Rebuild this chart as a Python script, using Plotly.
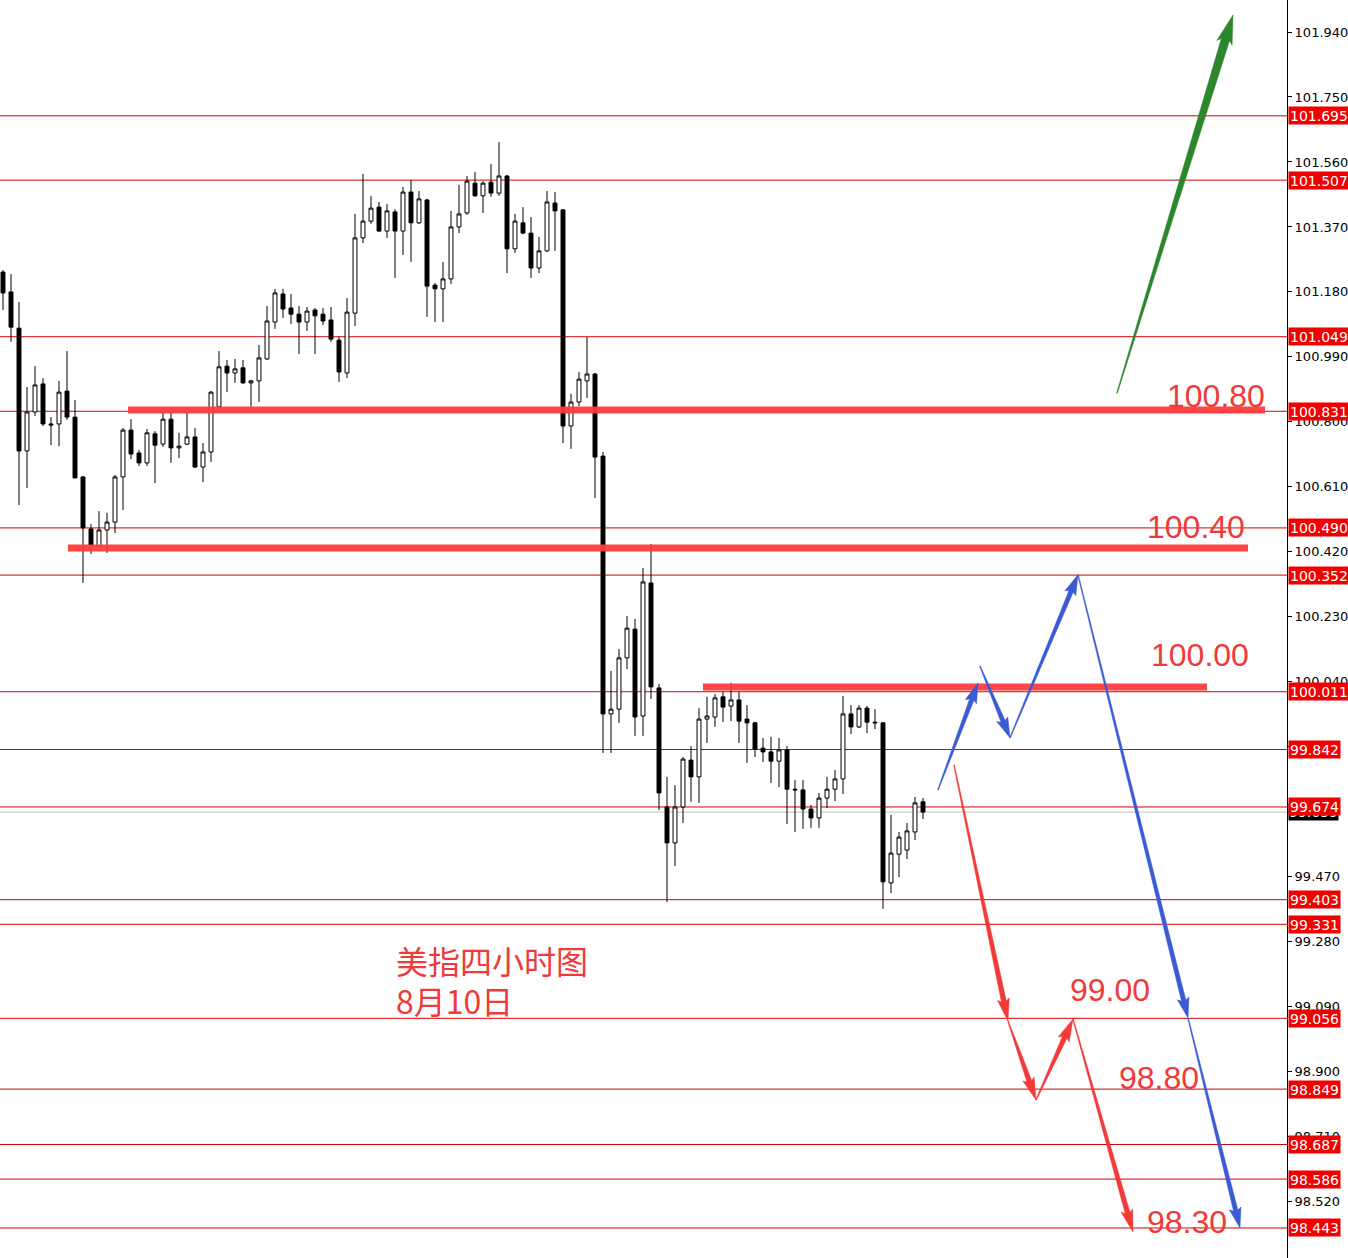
import math
import plotly.graph_objects as go

# ---------------- data ----------------
candle_idx = list(range(116))
opens = [101.238,101.180,101.074,100.715,100.829,100.911,100.794,100.794,100.890,100.814,
         100.639,100.487,100.437,100.484,100.507,100.639,100.776,100.709,100.680,100.765,
         100.735,100.808,100.724,100.735,100.756,100.668,100.712,100.844,100.963,100.943,
         100.958,100.914,100.920,100.984,101.092,101.174,101.133,101.115,101.092,101.127,
         101.115,101.098,101.039,100.943,101.118,101.338,101.387,101.428,101.358,101.414,
         101.358,101.472,101.382,101.449,101.200,101.189,101.218,101.370,101.411,101.498,
         101.461,101.501,101.469,101.519,101.306,101.382,101.352,101.250,101.300,101.440,
         101.420,100.788,100.858,100.920,100.940,100.700,99.946,99.960,100.110,100.194,
         99.940,100.329,100.022,99.674,99.569,99.674,99.811,99.762,99.931,99.937,
         99.996,99.969,99.987,99.931,99.920,99.846,99.835,99.808,99.841,99.726,
         99.724,99.668,99.642,99.700,99.726,99.756,99.946,99.908,99.963,99.922,
         99.920,99.452,99.536,99.548,99.601,99.689]
highs = [101.244,101.232,101.151,100.902,100.963,100.928,100.814,100.920,101.007,100.864,
         100.642,100.501,100.539,100.534,100.645,100.782,100.808,100.718,100.779,100.773,
         100.838,100.838,100.768,100.838,100.782,100.738,100.890,101.007,100.981,100.984,
         100.981,100.923,101.025,101.139,101.189,101.189,101.174,101.139,101.136,101.133,
         101.133,101.136,101.048,101.162,101.408,101.525,101.461,101.443,101.437,101.422,
         101.487,101.507,101.475,101.452,101.206,101.268,101.417,101.493,101.519,101.531,
         101.504,101.554,101.618,101.522,101.408,101.428,101.399,101.341,101.475,101.472,
         101.422,100.882,100.946,101.048,100.943,100.712,100.072,100.136,100.232,100.224,
         100.373,100.443,100.034,99.762,99.738,99.820,99.852,99.963,99.996,100.004,
         100.010,100.037,100.010,99.972,99.923,99.876,99.879,99.876,99.852,99.753,
         99.753,99.680,99.715,99.762,99.782,99.999,99.972,99.972,99.969,99.960,
         99.922,99.651,99.601,99.627,99.703,99.700]
lows = [101.127,101.034,100.557,100.607,100.817,100.788,100.732,100.729,100.806,100.636,
        100.329,100.414,100.434,100.417,100.475,100.542,100.691,100.671,100.671,100.621,
        100.727,100.680,100.694,100.732,100.665,100.624,100.683,100.841,100.887,100.914,
        100.911,100.844,100.858,100.981,101.072,101.104,101.086,100.998,101.066,100.998,
        101.083,101.034,100.917,100.928,101.080,101.323,101.379,101.355,101.338,101.221,
        101.288,101.268,101.379,101.107,101.092,101.092,101.203,101.352,101.405,101.458,
        101.411,101.458,101.461,101.235,101.294,101.349,101.221,101.235,101.297,101.300,
        100.738,100.721,100.846,100.870,100.577,99.832,99.832,99.920,100.077,99.882,
        99.882,99.990,99.665,99.396,99.501,99.627,99.689,99.686,99.861,99.908,
        99.922,99.925,99.861,99.803,99.820,99.805,99.744,99.732,99.624,99.601,
        99.610,99.613,99.613,99.671,99.691,99.712,99.887,99.905,99.890,99.902,
        99.376,99.422,99.469,99.522,99.577,99.639]
closes = [101.177,101.077,100.715,100.829,100.908,100.794,100.791,100.887,100.814,100.636,
          100.490,100.440,100.484,100.507,100.639,100.776,100.706,100.680,100.768,100.732,
          100.808,100.724,100.729,100.756,100.668,100.712,100.887,100.961,100.943,100.955,
          100.914,100.920,100.987,101.095,101.177,101.130,101.115,101.092,101.124,101.110,
          101.095,101.042,100.946,101.121,101.338,101.387,101.425,101.358,101.417,101.358,
          101.472,101.382,101.452,101.197,101.189,101.218,101.370,101.408,101.504,101.461,
          101.498,101.469,101.519,101.306,101.387,101.352,101.250,101.300,101.443,101.417,
          100.788,100.858,100.925,100.940,100.697,99.946,99.960,100.110,100.197,99.937,
          100.332,100.025,99.715,99.569,99.674,99.814,99.762,99.931,99.940,99.993,
          99.966,99.987,99.925,99.920,99.843,99.835,99.808,99.841,99.726,99.724,
          99.668,99.642,99.700,99.726,99.756,99.946,99.908,99.963,99.922,99.920,
          99.455,99.539,99.586,99.604,99.686,99.659]

axis_ticks = [101.940, 101.750, 101.560, 101.370, 101.180, 100.990, 100.800, 100.610,
              100.420, 100.230, 100.040, 99.850, 99.660, 99.470, 99.280, 99.090,
              98.900, 98.710, 98.520]
level_lines = [101.695, 101.507, 101.049, 100.831, 100.490, 100.352, 100.011, 99.842,
               99.674, 99.403, 99.331, 99.056, 98.849, 98.687, 98.586, 98.443]
current_price = 99.659

# thick key levels: (price, x_start, x_end)
key_prices = [100.835, 100.431, 100.025]
key_x_start = [15.625, 8.125, 87.5]
key_x_end = [157.75, 155.625, 150.5]

key_label_text = ["100.80", "100.40", "100.00", "99.00", "98.80", "98.30"]
key_label_x = [145.3, 142.8, 143.3, 133.1, 139.3, 142.8]
key_label_p = [100.876, 100.493, 100.118, 99.139, 98.882, 98.460]

# arrows: start (x, price) -> tip (x, price)
blue_from = [(116.875, 99.724), (122.125, 100.086), (125.875, 99.876), (134.375, 100.353), (148.125, 99.057)]
blue_to = [(121.875, 100.037), (125.875, 99.876), (134.375, 100.353), (148.125, 99.057), (154.625, 98.443)]
red_from = [(118.875, 99.797), (125.625, 99.048), (129.125, 98.817), (133.75, 99.054)]
red_to = [(125.625, 99.048), (129.125, 98.817), (133.75, 99.054), (141.25, 98.431)]
green_from = [(139.25, 100.884)]
green_to = [(153.75, 101.990)]

# ---------------- layout constants ----------------
W, H = 1348, 1258
MR = 61
XR = [-0.375, 160.5]
YR = [98.3552, 102.0336]
PW, PH = W - MR, H
sx = PW / (XR[1] - XR[0])
sy = PH / (YR[1] - YR[0])

RED_LINE = "#D80000"
THICK = "#FF3C3C"
TXT_RED = "#EE3A3A"
BLUE = "#3B5AD3"
ARROW_RED = "#F23A3A"
GREEN = "#2C872C"

fig = go.Figure()

fig.add_trace(go.Candlestick(
    x=candle_idx, open=opens, high=highs, low=lows, close=closes,
    increasing=dict(fillcolor="white", line=dict(color="black", width=1)),
    decreasing=dict(fillcolor="black", line=dict(color="black", width=1)),
    whiskerwidth=0, hoverinfo="skip", showlegend=False))

shapes = []
# current price (gray) line
shapes.append(dict(type="line", xref="paper", yref="y", x0=0, x1=1, y0=current_price, y1=current_price,
                   line=dict(color="#C0C0C0", width=1), layer="below"))
# thin red level lines
for v in level_lines:
    shapes.append(dict(type="line", xref="paper", yref="y", x0=0, x1=1, y0=v, y1=v,
                       line=dict(color=RED_LINE, width=1), layer="below"))

# thick key lines
for p, a, b in zip(key_prices, key_x_start, key_x_end):
    fig.add_trace(go.Scatter(x=[a, b], y=[p, p], mode="lines",
                             line=dict(color=THICK, width=7), opacity=0.95,
                             hoverinfo="skip", showlegend=False))


def arrow(p0, p1, color, w0, w1, hw, hl):
    X0, Y0 = p0[0] * sx, p0[1] * sy
    X1, Y1 = p1[0] * sx, p1[1] * sy
    dx, dy = X1 - X0, Y1 - Y0
    L = math.hypot(dx, dy)
    ux, uy = dx / L, dy / L
    nx, ny = -uy, ux
    bx, by = X1 - ux * hl, Y1 - uy * hl
    cx, cy = X1 - ux * hl * 1.12, Y1 - uy * hl * 1.12
    pts = [(X0 + nx * w0 / 2, Y0 + ny * w0 / 2),
           (bx + nx * w1 / 2, by + ny * w1 / 2),
           (cx + nx * hw / 2, cy + ny * hw / 2),
           (X1, Y1),
           (cx - nx * hw / 2, cy - ny * hw / 2),
           (bx - nx * w1 / 2, by - ny * w1 / 2),
           (X0 - nx * w0 / 2, Y0 - ny * w0 / 2)]
    xs = [q[0] / sx for q in pts] + [pts[0][0] / sx]
    ys = [q[1] / sy for q in pts] + [pts[0][1] / sy]
    fig.add_trace(go.Scatter(x=xs, y=ys, mode="lines", fill="toself", fillcolor=color,
                             line=dict(color=color, width=0.5), hoverinfo="skip", showlegend=False))


for a, b in zip(blue_from, blue_to):
    arrow(a, b, BLUE, 0.8, 4.5, 12, 18)
for a, b in zip(red_from, red_to):
    arrow(a, b, ARROW_RED, 0.8, 5, 12, 20)
for a, b in zip(green_from, green_to):
    arrow(a, b, GREEN, 0.8, 8.5, 16, 26)

annotations = []
# current-price black label (mostly hidden)
annotations.append(dict(xref="paper", yref="y", x=1, y=current_price, xanchor="left", xshift=1,
                        yanchor="middle", text=f"{current_price:.3f}", showarrow=False,
                        bgcolor="black", borderpad=0, height=16,
                        font=dict(family="DejaVu Sans", size=14, color="white")))
for v in level_lines:
    annotations.append(dict(xref="paper", yref="y", x=1, y=v, xanchor="left", xshift=1,
                            yanchor="middle", text=f"{v:.3f}", showarrow=False,
                            bgcolor="#F00000", borderpad=1, height=15,
                            font=dict(family="DejaVu Sans", size=14, color="white")))
for t, xv, pv in zip(key_label_text, key_label_x, key_label_p):
    annotations.append(dict(xref="x", yref="y", x=xv, y=pv, xanchor="left", yanchor="middle",
                            text=t, showarrow=False,
                            font=dict(family="Liberation Sans", size=32, color=TXT_RED)))
annotations.append(dict(xref="x", yref="y", x=48.9, y=99.227, xanchor="left", yanchor="middle",
                        text="美指四小时图", showarrow=False,
                        font=dict(family="Noto Sans CJK SC", size=32, color=TXT_RED)))
annotations.append(dict(xref="x", yref="y", x=48.9, y=99.110, xanchor="left", yanchor="middle",
                        text="8月10日", showarrow=False,
                        font=dict(family="Noto Sans CJK SC", size=32, color=TXT_RED)))

fig.update_layout(
    width=W, height=H,
    margin=dict(l=0, r=MR, t=0, b=0, pad=0),
    paper_bgcolor="white", plot_bgcolor="white",
    showlegend=False,
    shapes=shapes,
    annotations=annotations,
    xaxis=dict(range=XR, visible=False, rangeslider=dict(visible=False), fixedrange=True),
    yaxis=dict(range=YR, side="right", tickvals=axis_ticks,
               ticktext=[f"{v:.3f}" for v in axis_ticks],
               ticks="outside", ticklen=4, tickwidth=1, tickcolor="black",
               showline=True, linecolor="black", linewidth=1,
               showgrid=False, zeroline=False, fixedrange=True,
               tickfont=dict(family="DejaVu Sans", size=13, color="black")),
)

fig.write_html("out.html", config={"displayModeBar": False},
               post_script="document.body.style.margin='0';")
